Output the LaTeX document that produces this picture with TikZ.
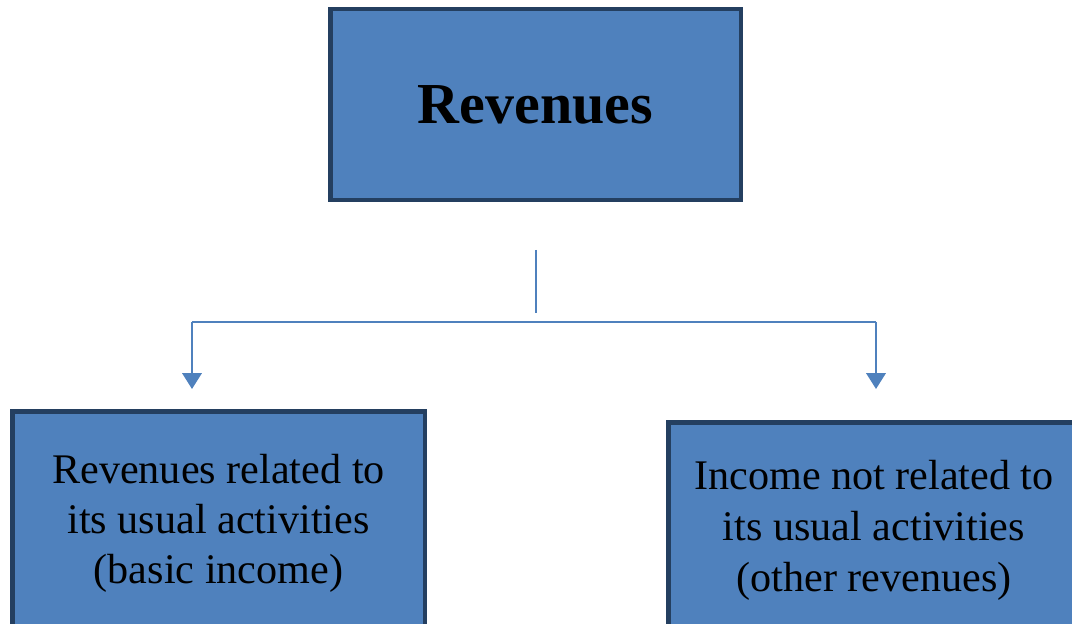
\documentclass[tikz,border=0pt]{standalone}
\usepackage{fontspec}
\setmainfont{Liberation Serif}
\usetikzlibrary{arrows.meta, positioning}
\definecolor{boxblue}{HTML}{4F81BD}
\definecolor{boxedge}{HTML}{243F60}
\tikzset{
  revbox/.style={draw=boxedge, fill=boxblue, line width=2.8pt, align=center, inner sep=0pt},
  link/.style={draw=boxblue, line width=1.3pt},
}
\begin{document}
\begin{tikzpicture}[x=0.02cm, y=-0.02cm, >={Triangle[width=11pt, length=9pt]}]
\useasboundingbox (0,0) rectangle (1072,624);
\node[revbox, minimum width=8.22cm, minimum height=3.82cm,
  font=\fontsize{33}{40}\selectfont\bfseries] (rev) at (535.5,104.5) {Revenues};
\node[revbox, minimum width=8.26cm, minimum height=4.46cm,
  font=\fontsize{24}{28.5}\selectfont] (basic) at (218.5,523)
  {Revenues related to\\its usual activities\\(basic income)};
\node[revbox, minimum width=8.24cm, minimum height=4.3cm,
  font=\fontsize{24}{29}\selectfont] (other) at (874,530)
  {Income not related to\\its usual activities\\(other revenues)};
% connectors
\coordinate (stemtop) at (536,250);
\coordinate (stembot) at (536,313);
\coordinate (barL) at (192,322);
\coordinate (barR) at (876,322);
\coordinate (tipL) at (192,389);
\coordinate (tipR) at (876,389);
\draw[link] (stemtop) -- (stembot);
\draw[link] (tipL |- barL) -- (barR);
\draw[link,->] (barL) -- (tipL);
\draw[link,->] (barR) -- (tipR);
\end{tikzpicture}
\end{document}
